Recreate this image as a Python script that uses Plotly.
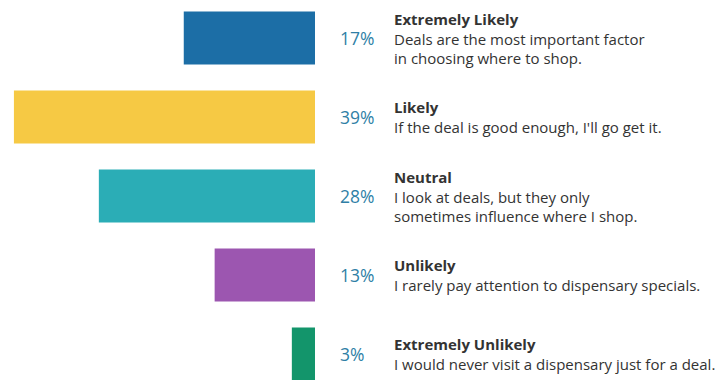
import plotly.graph_objects as go

# Survey responses: how much do deals influence where people shop
categories = ["Extremely Likely", "Likely", "Neutral", "Unlikely", "Extremely Unlikely"]
values = [17, 39, 28, 13, 3]
descriptions = [
    "Deals are the most important factor<br>in choosing where to shop.",
    "If the deal is good enough, I'll go get it.",
    "I look at deals, but they only<br>sometimes influence where I shop.",
    "I rarely pay attention to dispensary specials.",
    "I would never visit a dispensary just for a deal.",
]
colors = ["#1c6ea6", "#f6c944", "#2badb6", "#9c56b0", "#13956b"]

fig = go.Figure(
    go.Bar(
        x=values,
        y=categories,
        orientation="h",
        marker=dict(color=colors, line=dict(width=0)),
        width=0.67,
        hoverinfo="skip",
    )
)

FONT = "'Open Sans', Inter, sans-serif"

for cat, val, desc in zip(categories, values, descriptions):
    # percentage just to the right of the bar baseline
    fig.add_annotation(
        x=338 / 728, xref="paper", y=cat, yref="y",
        text=f"{val}%", showarrow=False, xanchor="left", yanchor="middle",
        font=dict(family=FONT, size=17.5, color="#2f7fa6"),
    )
    # heading + description block
    fig.add_annotation(
        x=392 / 728, xref="paper", y=cat, yref="y",
        text=f"<b>{cat}</b><br>{desc}", showarrow=False,
        xanchor="left", yanchor="middle", align="left",
        font=dict(family=FONT, size=15, color="#333333"),
    )

px_per_unit = 7.72
zero_px = 315
fig.update_xaxes(
    range=[zero_px / px_per_unit, zero_px / px_per_unit - 728 / px_per_unit],
    visible=False, showgrid=False, zeroline=False,
)
fig.update_yaxes(
    range=[4 + 26 / 79, -38 / 79],
    visible=False, showgrid=False, zeroline=False,
)
fig.update_layout(
    width=728, height=380,
    margin=dict(l=0, r=0, t=0, b=0),
    paper_bgcolor="white", plot_bgcolor="white",
    showlegend=False,
)

fig.write_html("out.html", config={"displayModeBar": False})
